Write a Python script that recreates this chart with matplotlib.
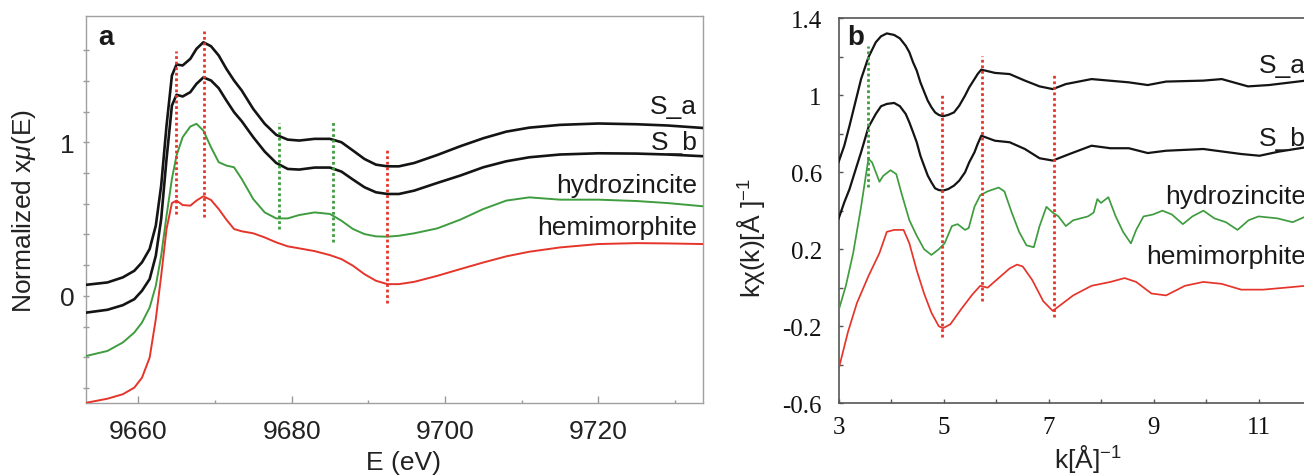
import matplotlib
matplotlib.use('Agg')
import matplotlib.pyplot as plt
from matplotlib.ticker import FixedLocator

plt.rcParams['font.family'] = ['Liberation Sans', 'DejaVu Sans']
plt.rcParams['mathtext.fontset'] = 'custom'
plt.rcParams['mathtext.rm'] = 'Liberation Sans'
plt.rcParams['mathtext.it'] = 'Liberation Sans:italic'
plt.rcParams['mathtext.bf'] = 'Liberation Sans:bold'
plt.rcParams['mathtext.sf'] = 'Liberation Sans'

# ---------------- Panel a : XANES ----------------
E_a = [9653.3, 9656, 9658, 9659.5, 9660.5, 9661.5, 9662.3, 9663, 9663.7, 9664.4,
       9665, 9665.8, 9666.8, 9667.6, 9668.5, 9669.5, 9670.5, 9671.5, 9672.5, 9673.5,
       9675, 9676.5, 9678, 9679.5, 9681, 9683, 9685, 9686.5, 9688, 9689.5,
       9691, 9692.5, 9694, 9696, 9699, 9702, 9705, 9708, 9711, 9715,
       9720, 9725, 9729, 9733.6]
Sa_a = [0.072, 0.087, 0.12, 0.163, 0.218, 0.305, 0.457, 0.717, 1.108, 1.434,
        1.506, 1.50, 1.543, 1.608, 1.651, 1.625, 1.565, 1.478, 1.402, 1.337,
        1.217, 1.120, 1.048, 1.017, 1.011, 1.022, 1.022, 1.0, 0.946, 0.891,
        0.854, 0.843, 0.843, 0.865, 0.917, 0.974, 1.026, 1.069, 1.095, 1.113,
        1.122, 1.117, 1.109, 1.093]
Sb_a = [-0.109, -0.091, -0.061, -0.022, 0.033, 0.109, 0.261, 0.5, 0.891, 1.239,
        1.309, 1.298, 1.326, 1.38, 1.422, 1.402, 1.352, 1.272, 1.196, 1.137,
        1.033, 0.939, 0.865, 0.826, 0.822, 0.835, 0.835, 0.809, 0.757, 0.707,
        0.674, 0.663, 0.663, 0.685, 0.735, 0.783, 0.837, 0.876, 0.902, 0.92,
        0.928, 0.926, 0.92, 0.909]
hz_a = [-0.391, -0.359, -0.304, -0.239, -0.174, -0.076, 0.065, 0.261, 0.522, 0.761,
        0.913, 1.033, 1.102, 1.12, 1.076, 0.967, 0.87, 0.848, 0.837, 0.761,
        0.63, 0.543, 0.504, 0.504, 0.526, 0.543, 0.533, 0.489, 0.435, 0.402,
        0.387, 0.385, 0.391, 0.407, 0.439, 0.496, 0.565, 0.62, 0.641, 0.626,
        0.626, 0.617, 0.604, 0.583]
hm_a = [-0.696, -0.67, -0.641, -0.598, -0.533, -0.402, -0.152, 0.13, 0.435, 0.604,
        0.62, 0.591, 0.587, 0.62, 0.648, 0.624, 0.565, 0.496, 0.435, 0.42,
        0.407, 0.38, 0.348, 0.322, 0.309, 0.291, 0.265, 0.239, 0.196, 0.141,
        0.098, 0.076, 0.076, 0.091, 0.13, 0.174, 0.217, 0.257, 0.287, 0.315,
        0.337, 0.343, 0.341, 0.337]

a_vl_E = [9664.95, 9668.55, 9678.4, 9685.35, 9692.45]
a_vl_lo = [0.532, 0.51, 0.434, 0.348, -0.05]
a_vl_hi = [1.596, 1.726, 1.125, 1.134, 0.949]
a_vl_kind = ['r', 'r', 'g', 'g', 'r']

a_labels = ['S_a', 'S_b', 'hydrozincite', 'hemimorphite']
a_label_y = [1.235, 1.0, 0.72, 0.45]

# ---------------- Panel b : EXAFS ----------------
k_Sa = [3.0, 3.11, 3.21, 3.32, 3.43, 3.57, 3.71, 3.81, 3.92, 4.06, 4.17, 4.28, 4.35,
        4.42, 4.49, 4.56, 4.63, 4.70, 4.77, 4.84, 4.91, 4.99, 5.09, 5.20, 5.30,
        5.41, 5.49, 5.59, 5.65, 5.72, 5.98, 6.26, 6.55, 6.83, 7.08, 7.33, 7.82,
        8.53, 8.89, 9.24, 9.95, 10.3, 10.8, 11.2, 11.9]
Sa_b = [0.651, 0.737, 0.841, 0.962, 1.083, 1.196, 1.274, 1.305, 1.32, 1.312, 1.294, 1.256, 1.222,
        1.17, 1.127, 1.066, 1.018, 0.971, 0.937, 0.91, 0.897, 0.89, 0.897, 0.91, 0.945,
        0.997, 1.04, 1.083, 1.109, 1.132, 1.115, 1.109, 1.075, 1.045, 1.031, 1.057, 1.083,
        1.066, 1.052, 1.07, 1.075, 1.083, 1.045, 1.052, 1.075]
k_Sb = [3.0, 3.11, 3.21, 3.32, 3.43, 3.57, 3.71, 3.81, 3.92, 4.06, 4.17, 4.28, 4.35,
        4.42, 4.49, 4.56, 4.63, 4.70, 4.77, 4.84, 4.91, 4.99, 5.09, 5.20, 5.30,
        5.41, 5.49, 5.59, 5.65, 5.72, 5.98, 6.26, 6.55, 6.83, 7.08, 7.40, 7.82,
        8.18, 8.53, 8.89, 9.24, 9.95, 10.67, 11.02, 11.38, 11.9]
Sb_b = [0.357, 0.443, 0.512, 0.608, 0.703, 0.833, 0.902, 0.942, 0.954, 0.959, 0.942, 0.902, 0.858,
        0.807, 0.755, 0.685, 0.633, 0.582, 0.547, 0.516, 0.507, 0.504, 0.512, 0.53, 0.556,
        0.599, 0.651, 0.703, 0.746, 0.789, 0.763, 0.755, 0.72, 0.672, 0.66, 0.694, 0.737,
        0.724, 0.724, 0.699, 0.711, 0.72, 0.694, 0.685, 0.706, 0.729]
k_hz = [3.0, 3.14, 3.28, 3.43, 3.57, 3.64, 3.78, 3.85, 3.99, 4.10, 4.20, 4.35, 4.49,
        4.63, 4.77, 4.91, 5.02, 5.16, 5.27, 5.41, 5.48, 5.59, 5.70, 5.84, 6.05,
        6.16, 6.30, 6.44, 6.58, 6.72, 6.83, 6.96, 7.08, 7.19, 7.33, 7.47, 7.75,
        7.86, 7.93, 8.0, 8.14, 8.28, 8.42, 8.57, 8.67, 8.81, 8.99, 9.17, 9.35,
        9.56, 9.74, 9.95, 10.16, 10.38, 10.60, 10.81, 11.0, 11.36, 11.65, 11.9]
hz_b = [-0.12, 0.01, 0.18, 0.42, 0.67, 0.65, 0.55, 0.58, 0.61, 0.59, 0.49, 0.35, 0.27,
        0.20, 0.17, 0.20, 0.23, 0.32, 0.33, 0.30, 0.31, 0.42, 0.48, 0.50, 0.52,
        0.50, 0.39, 0.29, 0.22, 0.21, 0.32, 0.42, 0.39, 0.37, 0.32, 0.35, 0.37,
        0.39, 0.46, 0.44, 0.47, 0.37, 0.29, 0.23, 0.30, 0.37, 0.38, 0.40, 0.38,
        0.33, 0.37, 0.40, 0.36, 0.34, 0.30, 0.35, 0.37, 0.36, 0.34, 0.37]
k_hm = [3.0, 3.18, 3.35, 3.57, 3.78, 3.92, 4.06, 4.24, 4.35, 4.49, 4.63, 4.77, 4.91,
        4.99, 5.13, 5.34, 5.55, 5.70, 5.84, 6.05, 6.26, 6.40, 6.51, 6.69, 6.90,
        7.08, 7.18, 7.47, 7.82, 8.18, 8.45, 8.67, 8.96, 9.24, 9.60, 9.95, 10.3,
        10.67, 11.09, 11.5, 11.9]
hm_b = [-0.425, -0.23, -0.08, 0.06, 0.18, 0.29, 0.30, 0.30, 0.23, 0.09, -0.03, -0.13, -0.20,
        -0.21, -0.19, -0.11, -0.035, 0.01, 0.0, 0.05, 0.10, 0.12, 0.11, 0.04, -0.07,
        -0.12, -0.10, -0.04, 0.01, 0.03, 0.05, 0.03, -0.03, -0.04, 0.01, 0.03, 0.02,
        -0.01, -0.01, 0.0, 0.01]

b_vl_k = [3.556, 4.966, 5.727, 7.105]
b_vl_lo = [0.521, -0.258, -0.068, -0.154]
b_vl_hi = [1.253, 1.011, 1.201, 1.114]
b_vl_kind = ['g', 'r', 'r', 'r']

b_labels = ['S_a', 'S_b', 'hydrozincite', 'hemimorphite']
b_label_y = [1.156, 0.777, 0.477, 0.164]

b_yticks = [-0.6, -0.2, 0.2, 0.6, 1.0, 1.4]
b_yticklabels = ['-0.6', '-0.2', '0.2', '0.6', '1', '1.4']
b_xticks = [3, 5, 7, 9, 11]

BLACK = '#141414'
GREEN = '#3f9c3f'
RED = '#e5352b'
kind_col = {'r': RED, 'g': GREEN}

W, H = 1304, 477
fig = plt.figure(figsize=(W / 100, H / 100), dpi=100)

# ---------- panel a ----------
ax1 = fig.add_axes([86 / W, 1 - 404.3 / H, (702.7 - 86) / W, (404.3 - 17.3) / H])
ax1.plot(E_a, Sa_a, color=BLACK, lw=1.9, zorder=3, solid_joinstyle='round')
ax1.plot(E_a, Sb_a, color=BLACK, lw=1.9, zorder=3, solid_joinstyle='round')
ax1.plot(E_a, hz_a, color=GREEN, lw=1.4, zorder=3, solid_joinstyle='round')
ax1.plot(E_a, hm_a, color=RED, lw=1.4, zorder=3, solid_joinstyle='round')
for e, lo, hi, kd in zip(a_vl_E, a_vl_lo, a_vl_hi, a_vl_kind):
    ax1.plot([e, e], [lo, hi], color=kind_col[kd], lw=2.0, ls=(0, (1, 1)), zorder=4)
for t, y in zip(a_labels, a_label_y):
    ax1.text(9732.9, y, t, ha='right', va='center', fontsize=19, color='#1a1a1a')
ax1.text(0.0195, 0.928, 'a', transform=ax1.transAxes, fontsize=20,
         fontweight='bold', ha='left', va='baseline', color='#1a1a1a')
ax1.set_xlim(9653.2, 9733.6)
ax1.set_ylim(-0.70, 1.82)
ax1.xaxis.set_major_locator(FixedLocator([9660, 9680, 9700, 9720]))
ax1.xaxis.set_minor_locator(FixedLocator([9670, 9690, 9710, 9730]))
ax1.yaxis.set_major_locator(FixedLocator([0, 1]))
ax1.yaxis.set_minor_locator(FixedLocator([-0.6, -0.4, -0.2, 0.2, 0.4, 0.6, 0.8, 1.2, 1.4, 1.6]))
ax1.set_yticklabels(['0', '1'])
ax1.tick_params(axis='x', which='major', direction='in', length=5, width=1,
                color='#999999', labelsize=19, pad=11, labelcolor='#222222')
ax1.tick_params(axis='x', which='minor', direction='in', length=2.5, width=1, color='#999999')
ax1.tick_params(axis='y', which='both', direction='inout', length=4.5, width=1,
                color='#999999', labelsize=19, pad=6, labelcolor='#222222')
for s in ax1.spines.values():
    s.set_color('#a0a0a0')
    s.set_linewidth(1.0)
ax1.set_xlabel('E (eV)', fontsize=19, color='#222222')
ax1.set_ylabel(r'Normalized x$\mu$(E)', fontsize=19, color='#222222')
ax1.xaxis.set_label_coords((404 - 86) / (702.7 - 86), -(451 - 404.3) / 387.0)
ax1.yaxis.set_label_coords(-(86 - 38) / (702.7 - 86), 0.5)

# ---------- panel b ----------
bw = 9.5 * 52.5
ax2 = fig.add_axes([838.5 / W, 1 - 404.3 / H, bw / W, (404.3 - 19) / H])
ax2.plot(k_Sa, Sa_b, color=BLACK, lw=1.6, zorder=3, solid_joinstyle='round')
ax2.plot(k_Sb, Sb_b, color=BLACK, lw=1.6, zorder=3, solid_joinstyle='round')
ax2.plot(k_hz, hz_b, color=GREEN, lw=1.25, zorder=3, solid_joinstyle='round')
ax2.plot(k_hm, hm_b, color=RED, lw=1.25, zorder=3, solid_joinstyle='round')
for kk, lo, hi, kd in zip(b_vl_k, b_vl_lo, b_vl_hi, b_vl_kind):
    ax2.plot([kk, kk], [lo, hi], color=kind_col[kd], lw=2.0, ls=(0, (1, 1)), zorder=4)
for t, y in zip(b_labels, b_label_y):
    ax2.text(11.9, y, t, ha='right', va='center', fontsize=19, color='#1a1a1a')
ax2.text(0.017, 0.9325, 'b', transform=ax2.transAxes, fontsize=20,
         fontweight='bold', ha='left', va='baseline', color='#1a1a1a')
ax2.set_xlim(3, 12.5)
ax2.set_ylim(-0.6, 1.4)
ax2.xaxis.set_major_locator(FixedLocator(b_xticks))
ax2.xaxis.set_minor_locator(FixedLocator([4, 6, 8, 10, 12]))
ax2.yaxis.set_major_locator(FixedLocator(b_yticks))
ax2.yaxis.set_minor_locator(FixedLocator([-0.4, 0.0, 0.4, 0.8, 1.2]))
ax2.set_yticklabels(b_yticklabels)
ax2.set_xticklabels([str(v) for v in b_xticks])
for lab in ax2.get_xticklabels() + ax2.get_yticklabels():
    lab.set_fontfamily('Liberation Serif')
ax2.tick_params(axis='both', which='both', direction='in', length=3, width=1,
                color='#555555', labelsize=18, labelcolor='#111111')
ax2.tick_params(axis='x', which='major', pad=9)
ax2.tick_params(axis='y', which='major', pad=12)
for s in ax2.spines.values():
    s.set_color('#555555')
    s.set_linewidth(1.2)
ax2.set_xlabel(r'k[Å]$^{-1}$', fontsize=19, color='#222222')
ax2.set_ylabel(r'kχ(k)[Å ]$^{-1}$', fontsize=19, color='#222222')
ax2.xaxis.set_label_coords(0.5, -(443 - 404.3) / 385.3)
ax2.yaxis.set_label_coords(-(838.5 - 767) / bw, 1 - (238 - 19) / 385.3)

fig.savefig('out.png', dpi=100)
